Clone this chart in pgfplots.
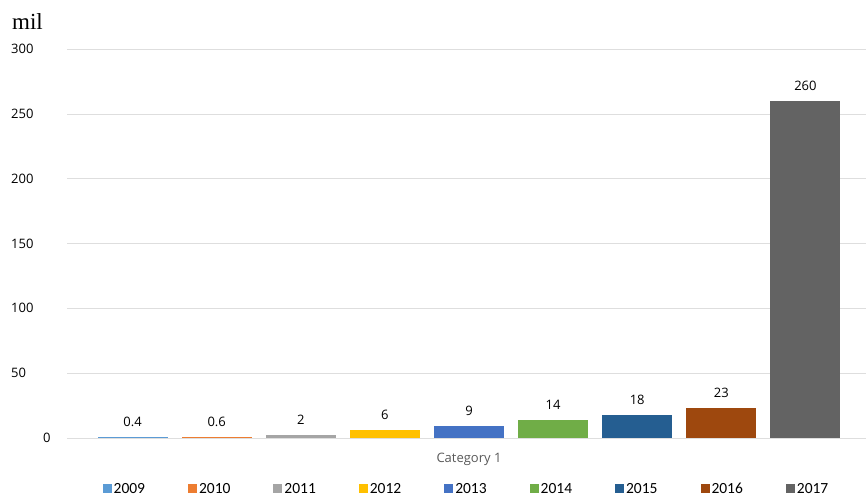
\documentclass[border=0pt]{standalone}
\usepackage{fontspec}
\usepackage{pgfplots}
\pgfplotsset{compat=1.18}
\setmainfont{Open Sans}
\newfontfamily\legfont{Carlito}
\newfontfamily\serfont{Liberation Serif}
\definecolor{c2009}{HTML}{5B9BD5}
\definecolor{c2010}{HTML}{ED7D31}
\definecolor{c2011}{HTML}{A5A5A5}
\definecolor{c2012}{HTML}{FFC000}
\definecolor{c2013}{HTML}{4472C4}
\definecolor{c2014}{HTML}{70AD47}
\definecolor{c2015}{HTML}{255E91}
\definecolor{c2016}{HTML}{9E480E}
\definecolor{c2017}{HTML}{636363}
\begin{document}
\begin{tikzpicture}
\begin{axis}[
  at={(0,0)}, anchor=south west,
  scale only axis, width=799bp, height=389bp,
  xmin=-0.78, xmax=8.72, ymin=0, ymax=300,
  ytick={0,50,100,150,200,250,300},
  yticklabels={\hspace*{32bp}0,50,100,150,200,250,300},
  yticklabel style={anchor=west, inner sep=0pt, xshift=-56bp, font=\fontsize{13bp}{15bp}\selectfont},
  xtick={4}, xticklabels={Category 1},
  xticklabel style={font=\fontsize{13bp}{15bp}\selectfont\color{black!65}, yshift=-7bp},
  ymajorgrids, grid style={color=black!13, line width=0.6pt},
  axis line style={draw=none}, major tick style={draw=none},
  clip=false,
  /pgf/number format/assume math mode=true,
  ybar, bar width=70bp,
  every axis plot/.append style={bar shift=0pt, draw=none},
  nodes near coords,
  nodes near coords style={font=\fontsize{13bp}{15bp}\selectfont, yshift=7bp},
  legend columns=9,
  legend style={at={(0.5,-0.131)}, anchor=center, draw=none, fill=none,
    font=\legfont\fontsize{15.5bp}{17bp}\selectfont,
    /tikz/every even column/.append style={column sep=41bp}},
  legend image code/.code={\fill[#1] (0bp,-4.5bp) rectangle (9bp,4.5bp);},
]
\addplot[fill=c2009] coordinates {(0,0.4)};
\addplot[fill=c2010] coordinates {(1,0.6)};
\addplot[fill=c2011] coordinates {(2,2)};
\addplot[fill=c2012] coordinates {(3,6)};
\addplot[fill=c2013] coordinates {(4,9)};
\addplot[fill=c2014] coordinates {(5,14)};
\addplot[fill=c2015] coordinates {(6,18)};
\addplot[fill=c2016] coordinates {(7,23)};
\addplot[fill=c2017] coordinates {(8,260)};
\legend{2009,2010,2011,2012,2013,2014,2015,2016,2017}
\end{axis}
\node[anchor=base west, inner sep=0pt, font=\serfont\fontsize{23bp}{25bp}\selectfont] at (-55bp,408bp) {mil};
\pgfresetboundingbox
\path (-67bp,-60bp) rectangle (799bp,438bp);
\end{tikzpicture}
\end{document}
